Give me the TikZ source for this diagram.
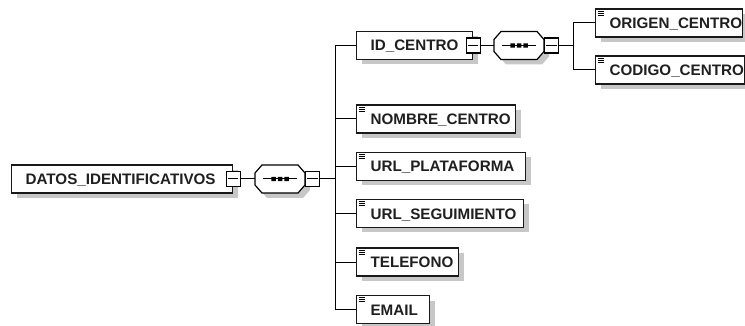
\documentclass[tikz,border=0pt]{standalone}
\usepackage{fontspec}
\setmainfont{Liberation Sans}
\usetikzlibrary{shadows}
\newcommand\seqshape[3]{%
 \begin{scope}[shift={(#2,#3)}]
  \fill[black!22] (-13,-9) -- (23,-9) -- (30,-1) -- (30,11) -- (23,19) -- (-13,19) -- (-20,11) -- (-20,-1) -- cycle;
  \draw[fill=white,line width=1.2pt] (-18,-14) -- (18,-14) -- (25,-6) -- (25,6) -- (18,14) -- (-18,14) -- (-25,6) -- (-25,-6) -- cycle;
  \draw (-17,0) -- (17,0);
  \fill (-8.75,-2.2) rectangle (-4.25,2.2) (-2.25,-2.2) rectangle (2.25,2.2) (4.25,-2.2) rectangle (8.75,2.2);
 \end{scope}
 \node[seqbox] (#1) at (#2,#3) {};
}
\begin{document}
\begin{tikzpicture}[x=1pt,y=-1pt,line width=1pt,
  elem/.style={draw=black!90, line width=1.2pt, fill=white, minimum height=28pt, inner xsep=14pt, inner ysep=0pt,
    text width=#1, align=left, anchor=west,
    font=\bfseries\fontsize{15.2}{17}\selectfont, text=black!88,
    text height=11pt, text depth=0pt,
    drop shadow={shadow xshift=5pt, shadow yshift=-5pt, fill=black!22, opacity=1}},
  minusbox/.style={draw, line width=1.1pt, fill=white, minimum width=14pt, minimum height=15pt, inner sep=0pt},
  seqbox/.style={minimum width=50pt, minimum height=28pt, inner sep=0pt},
  icon/.style={line width=0.8pt}]
\useasboundingbox (0,0) rectangle (745,326);
\fill[white] (0,0) rectangle (745,326);

% elements
\node[elem=193pt] (datos) at (11,179) {\mbox{DATOS\_IDENTIFICATIVOS}};
\node[elem=88pt] (id) at (356,45.5) {\mbox{ID\_CENTRO}};
\node[elem=119pt] (origen) at (595,23) {\mbox{ORIGEN\_CENTRO}};
\node[elem=121pt] (codigo) at (595,70) {\mbox{CODIGO\_CENTRO}};
\node[elem=131pt] (nombre) at (356,119) {\mbox{NOMBRE\_CENTRO}};
\node[elem=141pt] (urlp) at (356,166.5) {\mbox{URL\_PLATAFORMA}};
\node[elem=139pt] (urls) at (356,213.5) {\mbox{URL\_SEGUIMIENTO}};
\node[elem=74pt] (tel) at (356,262) {\mbox{TELEFONO}};
\node[elem=45pt] (email) at (356,309.5) {\mbox{EMAIL}};

% simple-type icons
\foreach \n in {origen,codigo,nombre,urlp,urls,tel,email}{
  \foreach \d in {2.8,4.8,6.8}
    \draw[icon] ([xshift=2.5pt,yshift=-\d*1pt]\n.north west) -- ++(6,0);
}

% sequence compositors
\seqshape{s1}{280}{179}
\seqshape{s2}{519}{45.5}

% minus boxes
\node[minusbox] (m1) at (datos.east) {};
\node[minusbox] (m2) at ([xshift=7pt]s1.east) {};
\node[minusbox] (m3) at (id.east) {};
\node[minusbox] (m4) at ([xshift=7pt]s2.east) {};
\foreach \m in {m1,m2,m3,m4}
  \draw ([xshift=2.5pt]\m.west) -- ([xshift=-2.5pt]\m.east);

% connectors
\coordinate (j1) at (335,179);
\coordinate (j2) at (573,45.5);
\draw (m1) -- (s1);
\draw (m2) -- (j1);
\foreach \c in {id,nombre,urlp,urls,tel,email}
  \draw (j1) |- (\c.west);
\draw (m3) -- (s2);
\draw (m4) -- (j2);
\draw (j2) |- (origen.west);
\draw (j2) |- (codigo.west);
\end{tikzpicture}
\end{document}
